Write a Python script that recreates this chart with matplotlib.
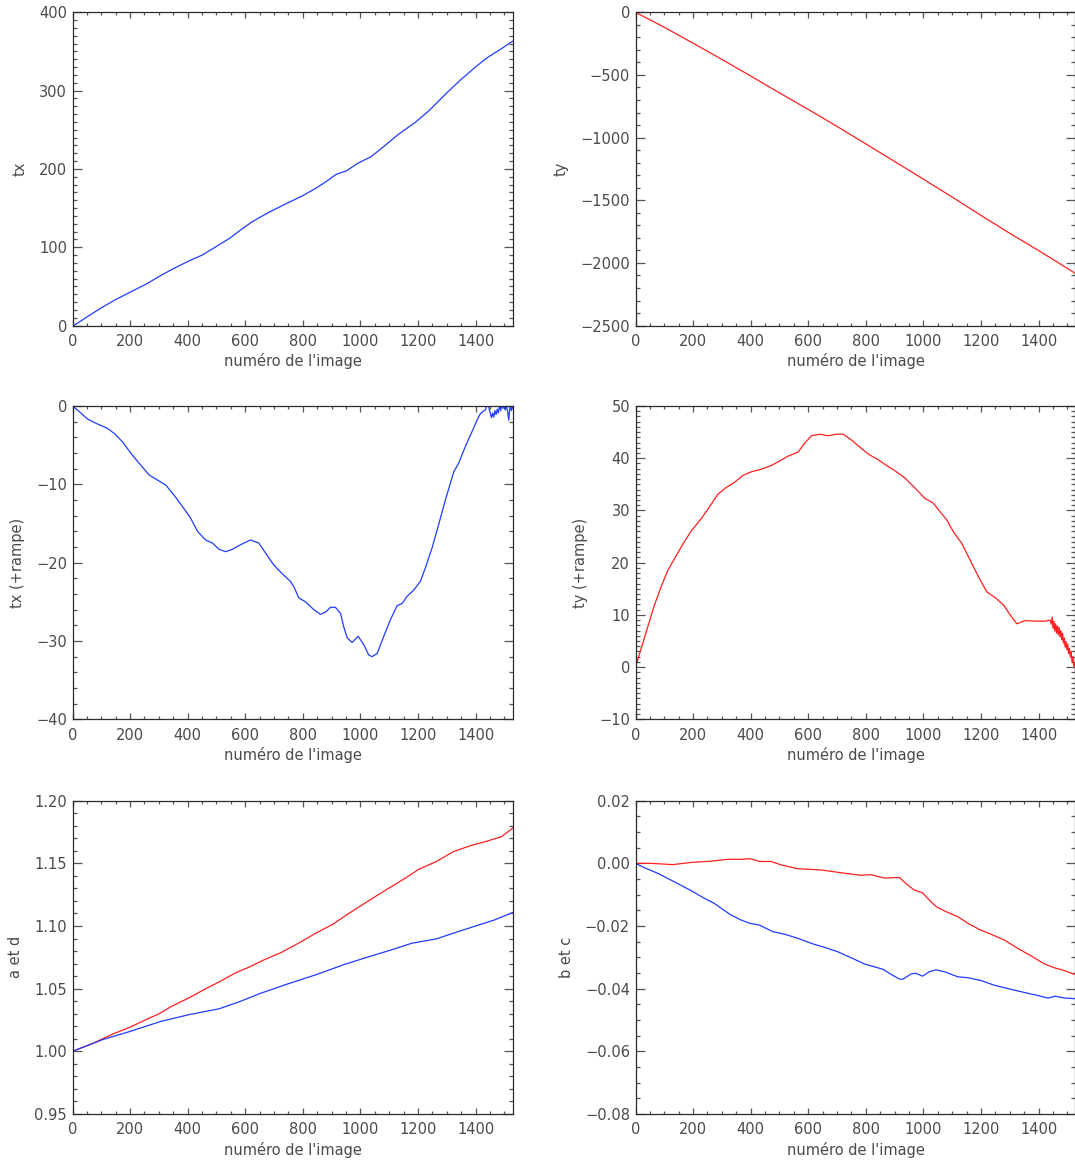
import matplotlib
matplotlib.use("Agg")
import matplotlib.pyplot as plt
from matplotlib.ticker import MultipleLocator, FuncFormatter

# ---------------------------------------------------------------- data
x_max = 1528

tx_x = [0, 56, 104, 152, 200, 259, 307, 355, 403, 450, 498, 546, 582, 624,
        677, 737, 797, 845, 880, 916, 952, 988, 1036, 1072, 1131, 1191, 1239,
        1299, 1346, 1406, 1442, 1490, 1528]
tx_v = [-1.0, 12.4, 23.6, 33.6, 42.6, 53.6, 64.1, 73.6, 82.3, 90.0, 100.7,
        111.6, 121.6, 132.6, 143.7, 154.8, 165.4, 175.3, 183.7, 193.2, 197.7,
        206.7, 215.5, 225.9, 244.0, 259.7, 274.7, 296.8, 313.2, 332.2, 342.5,
        353.6, 363.0]

ty_x = [0, 100, 200, 300, 400, 500, 600, 700, 800, 900, 1000, 1100, 1200,
        1300, 1400, 1500, 1528]
ty_v = [0.0, -119.5, -246.4, -375.9, -508.4, -642.8, -775.2, -910.6, -1050.4,
        -1190.4, -1331.9, -1474.7, -1620.9, -1763.9, -1901.5, -2043.3, -2085.0]

txr_x = [0, 23, 52, 81, 121, 145, 173, 202, 231, 266, 295, 324, 353, 387,
         410, 434, 462, 486, 509, 532, 555, 584, 618, 647, 671, 699, 728, 757,
         769, 786, 809, 838, 861, 879, 896, 913, 931, 942, 954, 971, 992, 1012,
         1029, 1040, 1058, 1081, 1104, 1127, 1145, 1162, 1185, 1208, 1225,
         1248, 1271, 1295, 1324, 1341, 1364, 1387, 1405, 1416, 1425, 1434,
         1440, 1445, 1450, 1455, 1459, 1463, 1467, 1471, 1475, 1479, 1483,
         1487, 1491, 1495, 1499, 1503, 1507, 1511, 1515, 1518, 1521, 1524,
         1528]
txr_v = [0.0, -0.7, -1.66, -2.2, -2.85, -3.5, -4.55, -6.0, -7.3, -8.8, -9.45,
         -10.1, -11.4, -13.1, -14.3, -16.0, -17.1, -17.5, -18.3, -18.6, -18.3,
         -17.7, -17.1, -17.5, -18.8, -20.3, -21.4, -22.4, -23.1, -24.5, -25.0,
         -26.0, -26.6, -26.3, -25.7, -25.7, -26.5, -28.2, -29.6, -30.2, -29.4,
         -30.5, -31.8, -32.0, -31.6, -29.4, -27.3, -25.5, -25.2, -24.3, -23.5,
         -22.4, -20.7, -18.2, -15.2, -12.0, -8.4, -7.3, -5.2, -3.3, -1.8, -1.0,
         -0.7, -0.5, 0.2, -0.1, -0.8, -1.5, -0.9, -1.4, -0.6, -1.1, -0.4, -0.9,
         0.1, -0.6, 0.3, -0.3, 0.2, -0.5, 0.1, -0.7, -1.8, -0.5, 0.2, -0.6,
         -0.2]

tyr_x = [0, 20, 43, 66, 89, 112, 136, 165, 194, 228, 257, 286, 315, 344, 373,
         402, 437, 472, 501, 530, 565, 588, 611, 640, 669, 698, 721, 750, 773,
         797, 814, 843, 872, 901, 936, 965, 988, 1005, 1034, 1057, 1081, 1104,
         1133, 1162, 1191, 1220, 1249, 1278, 1301, 1324, 1353, 1388, 1423,
         1440, 1444, 1447, 1450, 1453, 1456, 1459, 1462, 1465, 1468, 1471,
         1474, 1477, 1480, 1483, 1486, 1489, 1492, 1495, 1498, 1501, 1504,
         1507, 1510, 1513, 1516, 1519, 1522, 1525, 1528]
tyr_v = [0.0, 3.6, 7.8, 11.9, 15.4, 18.5, 20.8, 23.6, 26.1, 28.4, 30.7, 33.1,
         34.4, 35.4, 36.7, 37.4, 37.9, 38.6, 39.5, 40.4, 41.2, 42.9, 44.3,
         44.6, 44.3, 44.6, 44.6, 43.5, 42.4, 41.3, 40.6, 39.7, 38.6, 37.6,
         36.2, 34.6, 33.3, 32.3, 31.4, 29.8, 28.2, 25.9, 23.7, 20.5, 17.3,
         14.4, 13.3, 11.9, 10.0, 8.3, 8.9, 8.8, 8.8, 9.0, 8.2, 9.6, 7.4, 8.8,
         6.9, 8.3, 6.5, 7.9, 6.2, 7.6, 5.8, 7.0, 5.2, 6.5, 4.6, 5.6, 3.8, 4.9,
         3.3, 4.4, 2.6, 3.6, 1.9, 3.0, 1.0, 2.0, 0.2, 0.8, -0.8]

a_x = [0, 68, 140, 200, 259, 301, 343, 403, 462, 510, 564, 618, 665, 725,
       785, 845, 904, 952, 1000, 1048, 1108, 1155, 1203, 1263, 1323, 1382,
       1442, 1490, 1528]
a_v = [1.0, 1.0061, 1.0138, 1.0193, 1.0257, 1.0300, 1.0358, 1.0425, 1.0499,
       1.0555, 1.0624, 1.0677, 1.0730, 1.0789, 1.0863, 1.0943, 1.1014, 1.1089,
       1.1160, 1.1230, 1.1315, 1.1381, 1.1453, 1.1514, 1.1594, 1.1641, 1.1679,
       1.1713, 1.1780]

d_x = [0, 104, 200, 307, 403, 510, 582, 654, 749, 845, 940, 1012, 1108, 1179,
       1263, 1323, 1394, 1466, 1528]
d_v = [1.0, 1.0093, 1.0159, 1.0239, 1.0292, 1.0340, 1.0398, 1.0464, 1.0539,
       1.0611, 1.0690, 1.0743, 1.0810, 1.0863, 1.0897, 1.0943, 1.0996, 1.1049,
       1.1107]

b_x = [0, 54, 130, 193, 263, 320, 367, 399, 430, 471, 506, 563, 644, 714,
       783, 818, 864, 916, 945, 968, 997, 1020, 1044, 1073, 1119, 1154, 1194,
       1234, 1281, 1327, 1373, 1420, 1457, 1492, 1528]
b_v = [0.0, 0.0, -0.0004, 0.0003, 0.0007, 0.0013, 0.0013, 0.0015, 0.0006,
       0.0006, -0.0005, -0.0017, -0.0021, -0.0030, -0.0038, -0.0036, -0.0047,
       -0.0045, -0.0069, -0.0085, -0.0094, -0.0117, -0.0138, -0.0152, -0.0170,
       -0.0191, -0.0211, -0.0226, -0.0245, -0.0271, -0.0295, -0.0321, -0.0334,
       -0.0343, -0.0355]

c_x = [0, 31, 78, 135, 193, 240, 274, 303, 332, 367, 396, 430, 477, 517, 563,
       616, 656, 702, 760, 795, 859, 887, 916, 928, 957, 974, 997, 1020, 1044,
       1073, 1119, 1154, 1200, 1246, 1304, 1350, 1398, 1433, 1457, 1492, 1528]
c_v = [0.0, -0.0014, -0.0032, -0.0059, -0.0087, -0.0112, -0.0128, -0.0147,
       -0.0165, -0.0181, -0.0191, -0.0197, -0.0218, -0.0226, -0.0239, -0.0257,
       -0.0268, -0.0282, -0.0306, -0.0321, -0.0338, -0.0354, -0.0369, -0.0370,
       -0.0353, -0.0351, -0.0360, -0.0346, -0.0340, -0.0346, -0.0362, -0.0365,
       -0.0374, -0.0389, -0.0402, -0.0412, -0.0422, -0.0430, -0.0424, -0.0430,
       -0.0432]

# ---------------------------------------------------------------- style
plt.rcParams['font.family'] = ['DejaVu Sans']
plt.rcParams['font.size'] = 10.5
TEXT = '#4a4a4a'
BLUE = '#1f3cff'
RED = '#ff1f1f'

fig = plt.figure(figsize=(10.75, 11.6), dpi=100)
W_PX, H_PX = 1075.0, 1160.0
col_left = [72.5, 635.5]
row_top = [12.3, 406.0, 800.7]
ax_w, ax_h = 440.0, 313.3


def make_axes(row, col):
    left = col_left[col] / W_PX
    bottom = 1 - (row_top[row] + ax_h) / H_PX
    return fig.add_axes([left, bottom, ax_w / W_PX, ax_h / H_PX])


def minus(fmt):
    return FuncFormatter(lambda v, p: (fmt % v).replace('-', '\u2212'))


def style(ax, ylim, ymajor, yminor, ylabel, yfmt='%d'):
    ax.set_xlim(0, x_max)
    ax.set_ylim(*ylim)
    ax.xaxis.set_major_locator(MultipleLocator(200))
    ax.xaxis.set_minor_locator(MultipleLocator(50))
    ax.yaxis.set_major_locator(MultipleLocator(ymajor))
    ax.yaxis.set_minor_locator(MultipleLocator(yminor))
    ax.yaxis.set_major_formatter(minus(yfmt))
    ax.xaxis.set_major_formatter(minus('%d'))
    ax.tick_params(which='both', direction='in', top=True, right=True,
                   color='#555555', width=0.9, labelcolor=TEXT)
    ax.tick_params(axis='x', which='major', length=4.6, pad=6)
    ax.tick_params(axis='x', which='minor', length=2.3)
    ax.tick_params(axis='y', which='major', length=6.3, pad=4)
    ax.tick_params(axis='y', which='minor', length=3.2)
    for s in ax.spines.values():
        s.set_color('#2a2a2a')
        s.set_linewidth(0.9)
    ax.set_xlabel("numéro de l'image", color=TEXT, labelpad=3)
    ax.set_ylabel(ylabel, color=TEXT, labelpad=8)


ax = make_axes(0, 0)
ax.plot(tx_x, tx_v, color=BLUE, lw=0.9)
style(ax, (0, 400), 100, 10, 'tx')

ax = make_axes(0, 1)
ax.plot(ty_x, ty_v, color=RED, lw=0.9)
style(ax, (-2500, 0), 500, 100, 'ty')

ax = make_axes(1, 0)
ax.plot(txr_x, txr_v, color=BLUE, lw=0.9)
style(ax, (-40, 0), 10, 2, 'tx (+rampe)')

ax = make_axes(1, 1)
ax.plot(tyr_x, tyr_v, color=RED, lw=0.9)
style(ax, (-10, 50), 10, 1, 'ty (+rampe)')

ax = make_axes(2, 0)
ax.plot(a_x, a_v, color=RED, lw=0.9)
ax.plot(d_x, d_v, color=BLUE, lw=0.9)
style(ax, (0.95, 1.20), 0.05, 0.01, 'a et d', '%.2f')

ax = make_axes(2, 1)
ax.plot(b_x, b_v, color=RED, lw=0.9)
ax.plot(c_x, c_v, color=BLUE, lw=0.9)
style(ax, (-0.08, 0.02), 0.02, 0.005, 'b et c', '%.2f')

fig.savefig('out.png', dpi=100)
